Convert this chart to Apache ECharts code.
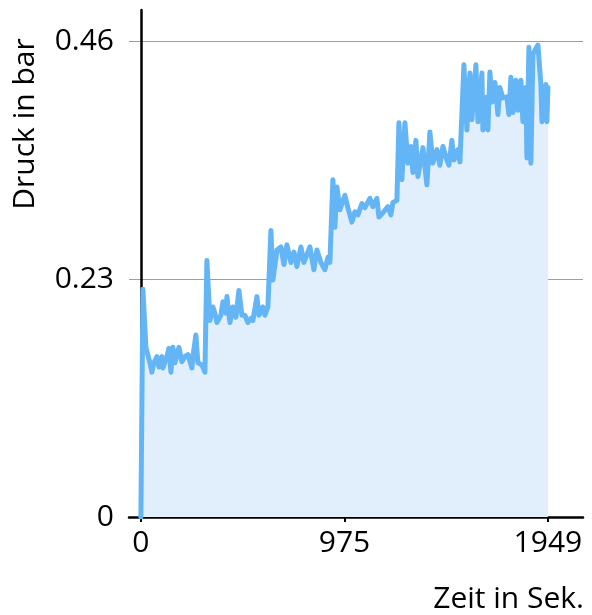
<!DOCTYPE html>
<html>
<head>
<meta charset="utf-8">
<script src="https://cdn.jsdelivr.net/npm/echarts@6/dist/echarts.min.js"></script>
<style>
html,body{margin:0;padding:0;background:#fff;}
#chart{width:592px;height:615px;}
</style>
</head>
<body>
<div id="chart"></div>
<script>
// Time in seconds
var times = [0, 9.6, 14.4, 23.9, 43.1, 52.7, 62.3, 76.6, 86.2, 100.6, 105.3, 124.5, 134.1, 143.7, 153.2, 162.8, 182.0, 196.3, 210.7, 225.1,
  244.2, 249.0, 263.4, 272.9, 292.1, 306.5, 316.0, 330.4, 344.8, 354.4, 363.9, 383.1, 392.7, 407.0, 411.8, 426.2, 440.6, 454.9, 469.3, 483.7,
  498.0, 512.4, 526.7, 536.3, 555.5, 565.0, 584.2, 593.8, 608.2, 622.5, 632.1, 651.3, 670.4, 684.8, 699.1, 718.3, 732.7, 747.0, 766.2, 780.5,
  790.1, 809.3, 828.4, 842.8, 861.9, 881.1, 895.5, 905.0, 919.4, 929.0, 938.6, 952.9, 976.9, 991.2, 1010.4, 1024.8, 1039.1, 1058.3, 1072.6, 1096.6,
  1111.0, 1130.1, 1139.7, 1158.8, 1182.8, 1197.2, 1206.7, 1225.9, 1235.5, 1249.8, 1264.2, 1278.6, 1292.9, 1302.5, 1316.9, 1326.4, 1350.4, 1369.5, 1383.9, 1398.3,
  1417.4, 1431.8, 1446.2, 1465.3, 1474.9, 1489.3, 1498.8, 1518.0, 1527.6, 1546.7, 1561.1, 1575.5, 1585.0, 1604.2, 1613.8, 1633.0, 1637.7, 1656.9, 1661.6, 1671.2,
  1680.8, 1695.2, 1709.5, 1719.1, 1733.5, 1752.6, 1762.2, 1771.8, 1781.4, 1795.7, 1805.3, 1819.7, 1829.2, 1843.6, 1848.4, 1858.0, 1867.5, 1877.1, 1891.5, 1901.1,
  1915.4, 1920.2, 1939.4, 1944.2, 1949];
// Pressure in bar
var pressure = [0, 0.220, 0.221, 0.164, 0.149, 0.140, 0.149, 0.155, 0.145, 0.155, 0.144, 0.155, 0.163, 0.140, 0.164, 0.149, 0.164, 0.150, 0.155, 0.157,
  0.144, 0.155, 0.176, 0.149, 0.147, 0.140, 0.248, 0.190, 0.203, 0.197, 0.188, 0.195, 0.208, 0.197, 0.213, 0.188, 0.203, 0.193, 0.219, 0.195,
  0.195, 0.188, 0.192, 0.190, 0.213, 0.195, 0.203, 0.195, 0.203, 0.277, 0.229, 0.258, 0.261, 0.244, 0.263, 0.246, 0.256, 0.242, 0.261, 0.246,
  0.251, 0.261, 0.239, 0.258, 0.246, 0.239, 0.251, 0.246, 0.326, 0.280, 0.319, 0.297, 0.311, 0.299, 0.285, 0.295, 0.292, 0.303, 0.299, 0.308,
  0.300, 0.308, 0.290, 0.294, 0.300, 0.292, 0.304, 0.306, 0.381, 0.326, 0.381, 0.342, 0.358, 0.333, 0.364, 0.329, 0.357, 0.321, 0.372, 0.342,
  0.355, 0.340, 0.358, 0.345, 0.340, 0.364, 0.345, 0.355, 0.343, 0.437, 0.374, 0.429, 0.384, 0.437, 0.382, 0.429, 0.374, 0.406, 0.374, 0.430,
  0.401, 0.420, 0.389, 0.415, 0.405, 0.406, 0.389, 0.425, 0.391, 0.422, 0.393, 0.422, 0.382, 0.415, 0.347, 0.454, 0.342, 0.447, 0.453, 0.456,
  0.418, 0.382, 0.418, 0.382, 0.415];
var xTicks = [0, 975, 1949];
var yTicks = [0, 0.23, 0.46];
var xTitle = 'Zeit in Sek.';
var yTitle = 'Druck in bar';

var seriesData = times.map(function (t, i) { return [t, pressure[i]]; });
var FONT = 'Open Sans';
var FS = 30;

var chart = echarts.init(document.getElementById('chart'), null, {renderer: 'canvas'});
chart.setOption({
  animation: false,
  backgroundColor: '#ffffff',
  grid: {left: 129, right: 9, top: 10, bottom: 98, containLabel: false},
  xAxis: {
    type: 'value',
    min: -57,
    max: 2117,
    axisLine: {show: true, onZero: true, lineStyle: {color: '#000', width: 2.5}},
    axisTick: {show: true, customValues: xTicks, length: 5, inside: false, lineStyle: {color: '#000', width: 2}},
    axisLabel: {show: true, customValues: xTicks, color: '#000', fontSize: FS, fontFamily: FONT, margin: 11,
      formatter: function (v) { return String(v); }},
    splitLine: {show: false}
  },
  yAxis: {
    type: 'value',
    min: 0,
    max: 0.49,
    interval: 0.23,
    axisLine: {show: true, onZero: true, lineStyle: {color: '#000', width: 2.5}},
    axisTick: {show: false},
    axisLabel: {show: true, showMaxLabel: false, color: '#000', fontSize: FS, fontFamily: FONT, margin: 15,
      formatter: function (v) { var r = Math.round(v * 100) / 100; return yTicks.indexOf(r) >= 0 ? String(r) : ''; }},
    splitLine: {show: true, showMinLine: false, showMaxLine: false, lineStyle: {color: '#9e9e9e', width: 1}}
  },
  series: [{
    type: 'line',
    data: seriesData,
    showSymbol: false,
    symbol: 'none',
    lineStyle: {color: '#64b5f6', width: 5, join: 'round', cap: 'round'},
    areaStyle: {color: '#e1effc', opacity: 1},
    z: 3
  }],
  graphic: [
    {type: 'text', x: 584, y: 599, style: {text: xTitle, fontSize: FS, fontFamily: FONT, fill: '#000', textAlign: 'right', textVerticalAlign: 'middle'}},
    {type: 'text', x: 25, y: 124, rotation: Math.PI / 2, style: {text: yTitle, fontSize: FS, fontFamily: FONT, fill: '#000', textAlign: 'center', textVerticalAlign: 'middle'}}
  ]
});
</script>
</body>
</html>
